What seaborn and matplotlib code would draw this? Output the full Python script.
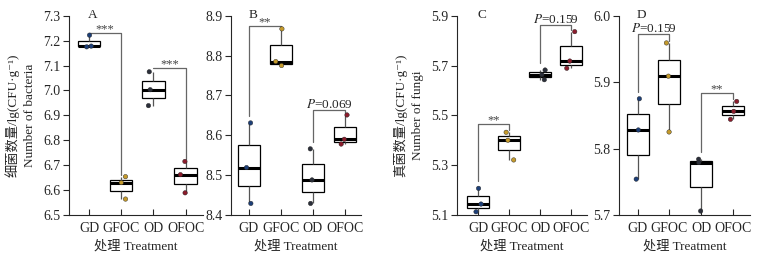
import numpy as np
import pandas as pd
import matplotlib
matplotlib.use('Agg')
import matplotlib.pyplot as plt
import seaborn as sns

sns.set_style('ticks')
plt.rcParams['font.family'] = ['Liberation Serif', 'Noto Sans CJK SC', 'DejaVu Serif']
plt.rcParams['mathtext.fontset'] = 'stix'

# группы и значения (по 3 повторности)
groups = ['GD', 'GFOC', 'OD', 'OFOC']
bact_A = {'GD': [7.222, 7.178, 7.175], 'GFOC': [6.630, 6.654, 6.564],
          'OD': [7.075, 7.003, 6.939], 'OFOC': [6.715, 6.662, 6.589]}
bact_B = {'GD': [8.631, 8.519, 8.429], 'GFOC': [8.867, 8.785, 8.775],
          'OD': [8.566, 8.488, 8.429], 'OFOC': [8.651, 8.590, 8.578]}
fungi_C = {'GD': [5.207, 5.144, 5.113], 'GFOC': [5.432, 5.400, 5.321],
           'OD': [5.682, 5.663, 5.643], 'OFOC': [5.836, 5.718, 5.689]}
fungi_D = {'GD': [5.875, 5.828, 5.754], 'GFOC': [5.959, 5.909, 5.825],
           'OD': [5.784, 5.779, 5.706], 'OFOC': [5.871, 5.856, 5.844]}

letters = ['A', 'B', 'C', 'D']
yticks = [np.arange(6.5, 7.31, 0.1), np.arange(8.4, 8.91, 0.1),
          np.arange(5.1, 5.91, 0.2), np.arange(5.7, 6.01, 0.1)]
# сравнения: (группа1, группа2, уровень скобки, подпись)
brackets = [
    [('GD', 'GFOC', 7.229, '***'), ('OD', 'OFOC', 7.090, '***')],
    [('GD', 'GFOC', 8.874, '**'), ('OD', 'OFOC', 8.663, '$P$=0.069')],
    [('GD', 'GFOC', 5.465, '**'), ('OD', 'OFOC', 5.863, '$P$=0.159')],
    [('GD', 'GFOC', 5.972, '$P$=0.159'), ('OD', 'OFOC', 5.883, '**')],
]
ylabels = ['细菌数量/lg(CFU·g⁻¹)\nNumber of bacteria', None,
           '真菌数量/lg(CFU·g⁻¹)\nNumber of fungi', None]

colors = ['#1d3f78', '#c49a2c', '#2b2f3a', '#8b1c2c']
W, H = 758, 254
# положения осей в пикселях: left, xmin, xmax, шаг категории
boxes = [(69, -0.62, 3.55, 32.2), (231, -0.56, 3.5, 32.0),
         (457, -0.68, 3.5, 31.0), (619, -0.59, 3.55, 31.7)]

fig = plt.figure(figsize=(W / 100, H / 100), dpi=100)
np.random.seed(3)
panels = [bact_A, bact_B, fungi_C, fungi_D]
for i, data in enumerate(panels):
    left, x0, x1, step = boxes[i]
    width = (x1 - x0) * step
    ax = fig.add_axes([left / W, 1 - 215 / H, width / W, 199.3 / H])
    df = pd.DataFrame([(g, v) for g in groups for v in data[g]], columns=['group', 'value'])
    sns.boxplot(data=df, x='group', y='value', order=groups, ax=ax, width=0.7,
                color='white', linecolor='black', linewidth=0.9, showcaps=False,
                showfliers=False,
                whiskerprops={'color': '#555555'},
                medianprops={'color': 'black', 'linewidth': 2.2})
    sns.stripplot(data=df, x='group', y='value', order=groups, hue='group',
                  palette=colors, ax=ax, jitter=0.17, size=3.2, legend=False,
                  edgecolor='#222222', linewidth=0.3, zorder=5)
    lo, hi = yticks[i][0], yticks[i][-1]
    rng = hi - lo
    ax.set_ylim(lo, hi)
    ax.set_xlim(x0, x1)
    ax.set_yticks(yticks[i])
    ax.set_yticklabels([f'{t:.1f}' for t in yticks[i]], fontsize=10)
    ax.set_xticks(range(4))
    ax.set_xticklabels(groups, fontsize=10)
    ax.tick_params(axis='x', direction='in', length=4, width=0.8, pad=5)
    ax.tick_params(axis='y', direction='out', length=4, width=0.8, pad=2)
    sns.despine(ax=ax)
    for s in ['left', 'bottom']:
        ax.spines[s].set_linewidth(0.8)
    ax.set_xlabel('处理 Treatment', fontsize=9.5, labelpad=4)
    if ylabels[i]:
        ax.set_ylabel(ylabels[i], fontsize=9.5, labelpad=5, linespacing=1.6)
    else:
        ax.set_ylabel('')
    ax.text(0.12, hi + 0.005 * rng, letters[i], fontsize=9.5, ha='center', va='center')

    for g1, g2, yb, lab in brackets[i]:
        xa, xb = groups.index(g1), groups.index(g2)
        ya = min(max(data[g1]) + 0.035 * rng, yb)
        yc = min(max(data[g2]) + 0.01 * rng, yb)
        ax.plot([xa, xa, xb, xb], [ya, yb, yb, yc], color='#666666', lw=0.9,
                zorder=4, clip_on=False)
        if lab.startswith('*'):
            ax.text((xa + xb) / 2, yb - 0.012 * rng, lab, ha='center', va='bottom',
                    fontsize=9, color='#444444')
        else:
            ax.text((xa + xb) / 2, yb - 0.004 * rng, lab, ha='center', va='bottom',
                    fontsize=9.5)

fig.savefig('out.png', dpi=100)
